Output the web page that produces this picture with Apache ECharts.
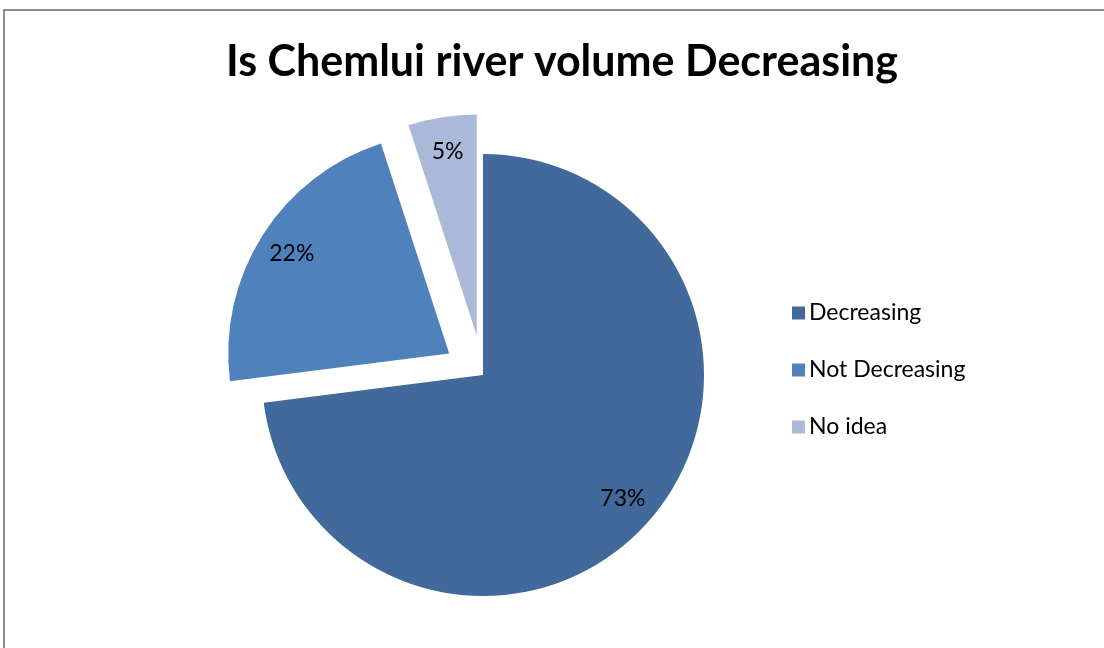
<!DOCTYPE html>
<html>
<head>
<meta charset="utf-8">
<script src="https://cdn.jsdelivr.net/npm/echarts@6/dist/echarts.min.js"></script>
<style>
html,body{margin:0;padding:0;background:#fff;overflow:hidden;}
#frame{position:absolute;left:3px;top:9px;width:1200px;height:800px;border:2px solid #8c8c8c;box-sizing:border-box;}
#chart{position:absolute;left:0;top:0;width:1104px;height:648px;}
</style>
</head>
<body>
<div id="frame"></div>
<div id="chart"></div>
<script>
const titleText = 'Is Chemlui river volume Decreasing';
const categories = ['Decreasing', 'Not Decreasing', 'No idea'];
const values = [73, 22, 5];
const exploded = [false, true, true];
const colors = ['#41699B', '#4F81BD', '#AAB9D7'];

const chart = echarts.init(document.getElementById('chart'), null, {renderer: 'canvas'});

function buildData(withColor) {
  return categories.map((c, i) => ({
    name: c,
    value: values[i],
    selected: exploded[i],
    itemStyle: {color: withColor ? colors[i] : 'rgba(0,0,0,0)'},
    select: {itemStyle: {color: withColor ? colors[i] : 'rgba(0,0,0,0)'}}
  }));
}

const center = [483, 375];
const R = 221;
const offset = 40;

chart.setOption({
  animation: false,
  title: {
    text: titleText,
    left: 557, top: 36, textAlign: 'center',
    textStyle: {fontFamily: 'Lato', fontWeight: 'bold', fontSize: 43, color: '#000'}
  },
  legend: {
    orient: 'vertical',
    left: 787, top: 296,
    itemWidth: 13, itemHeight: 13,
    itemGap: 33,
    icon: 'rect',
    selectedMode: false,
    data: categories,
    textStyle: {fontFamily: 'Lato', fontSize: 23, color: '#000', lineHeight: 24, padding: [0,0,0,-1]}
  },
  series: [
    {
      type: 'pie',
      center: center,
      radius: [0, R],
      startAngle: 90,
      clockwise: true,
      selectedMode: 'multiple',
      selectedOffset: offset,
      silent: true,
      label: {show: false},
      labelLine: {show: false},
      emphasis: {disabled: true},
      data: buildData(true)
    },
    {
      type: 'pie',
      center: center,
      radius: [146, R],
      startAngle: 90,
      clockwise: true,
      selectedMode: 'multiple',
      selectedOffset: offset,
      silent: true,
      z: 3,
      label: {
        show: true, position: 'inside',
        formatter: '{c}%',
        fontFamily: 'Lato', fontSize: 23, color: '#000'
      },
      labelLine: {show: false},
      emphasis: {disabled: true},
      data: buildData(false)
    }
  ]
});
</script>
</body>
</html>
